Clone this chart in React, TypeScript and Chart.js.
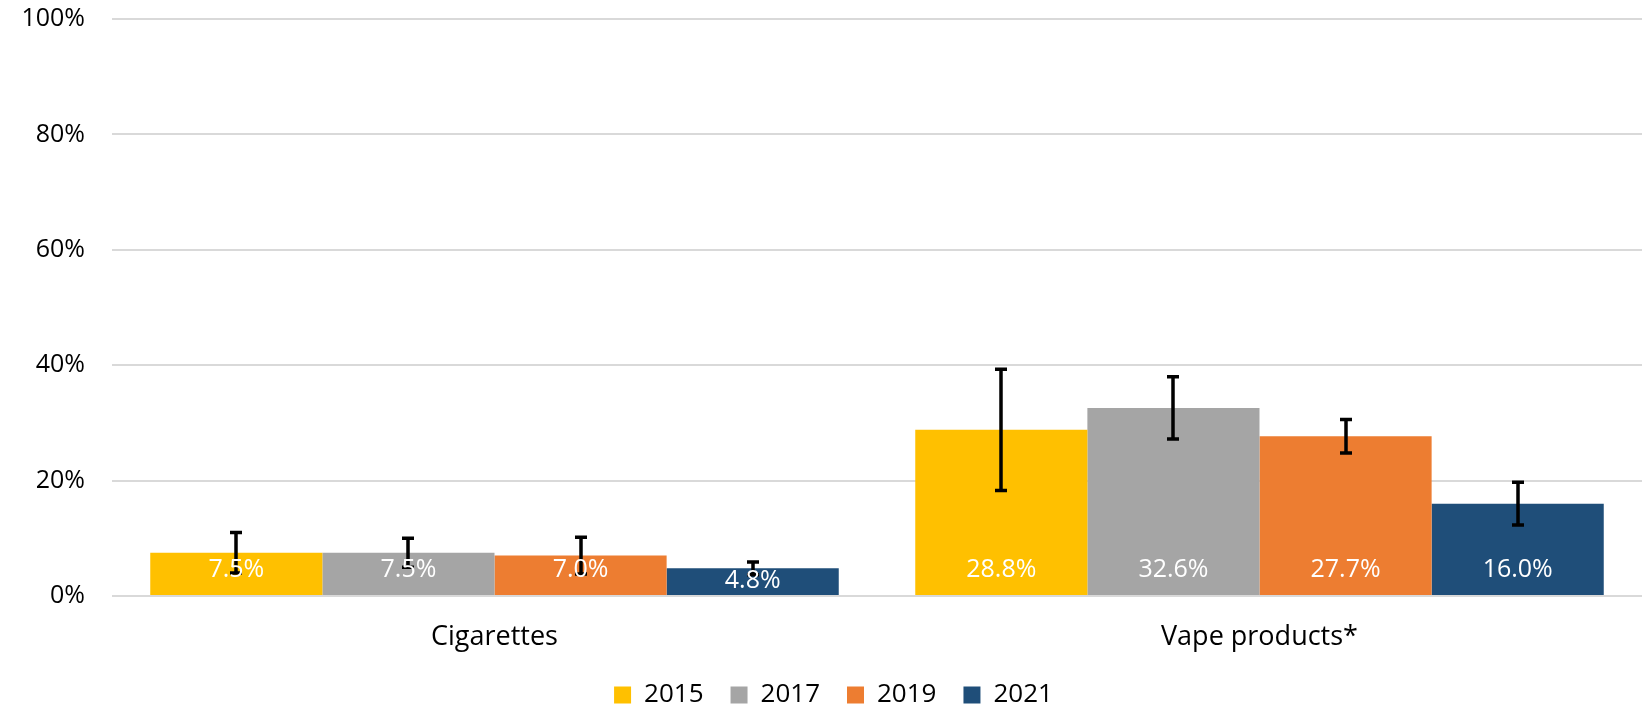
import React, { useEffect, useRef } from "react";
import { Chart, registerables } from "chart.js";

Chart.register(...registerables);

const categories = ["Cigarettes", "Vape products*"];
const seriesLabels = ["2015", "2017", "2019", "2021"];
const values2015 = [7.5, 28.8];
const values2017 = [7.5, 32.6];
const values2019 = [7.0, 27.7];
const values2021 = [4.8, 16.0];
const errors2015 = [3.5, 10.5];
const errors2017 = [2.5, 5.4];
const errors2019 = [3.2, 2.9];
const errors2021 = [1.1, 3.7];
const seriesColors = ["#FFC000", "#A5A5A5", "#ED7D31", "#1F4E79"];
const yTickValues = [0, 20, 40, 60, 80, 100];

const FONT = "'Open Sans', 'Noto Sans', sans-serif";

const seriesValues = [values2015, values2017, values2019, values2021];
const seriesErrors = [errors2015, errors2017, errors2019, errors2021];

const barExtras = {
  id: "barExtras",
  afterLayout(chart: any) {
    if (chart.legend) {
      chart.legend.left += 25;
    }
  },
  afterDatasetsDraw(chart: any) {
    const ctx = chart.ctx;
    const yScale = chart.scales.y;
    const base = yScale.getPixelForValue(0);
    // error bars
    chart.data.datasets.forEach((ds: any, di: number) => {
      const meta = chart.getDatasetMeta(di);
      meta.data.forEach((bar: any, i: number) => {
        const v = ds.data[i];
        const e = ds.errors[i];
        const x = Math.round(bar.x);
        const yTop = yScale.getPixelForValue(v + e);
        const yBot = yScale.getPixelForValue(v - e);
        ctx.save();
        ctx.strokeStyle = "#000";
        ctx.lineWidth = 3.5;
        ctx.lineCap = "butt";
        ctx.beginPath();
        ctx.moveTo(x, yTop);
        ctx.lineTo(x, yBot);
        ctx.moveTo(x - 6, yTop);
        ctx.lineTo(x + 6, yTop);
        ctx.moveTo(x - 6, yBot);
        ctx.lineTo(x + 6, yBot);
        ctx.stroke();
        ctx.restore();
      });
    });
    // data labels
    const fontSize = 25;
    const digitH = fontSize * 0.714;
    chart.data.datasets.forEach((ds: any, di: number) => {
      const meta = chart.getDatasetMeta(di);
      meta.data.forEach((bar: any, i: number) => {
        const v = ds.data[i];
        let center = base - 28;
        const minCenter = bar.y + 2 + digitH / 2;
        if (center < minCenter) center = minCenter;
        ctx.save();
        ctx.fillStyle = "#FFFFFF";
        ctx.font = `${fontSize}px ${FONT}`;
        ctx.textAlign = "center";
        ctx.textBaseline = "alphabetic";
        ctx.fillText(v.toFixed(1) + "%", bar.x, center + digitH / 2);
        ctx.restore();
      });
    });
  },
};

export default function App() {
  const canvasRef = useRef<HTMLCanvasElement | null>(null);

  useEffect(() => {
    document.body.style.margin = "0";
    const canvas = canvasRef.current;
    if (!canvas) return;
    const chart = new Chart(canvas, {
      type: "bar",
      data: {
        labels: categories,
        datasets: seriesLabels.map((label, i) => ({
          label,
          data: seriesValues[i],
          errors: seriesErrors[i],
          backgroundColor: seriesColors[i],
          borderWidth: 0,
          categoryPercentage: 0.9,
          barPercentage: 1.0,
        })) as any,
      },
      options: {
        responsive: false,
        animation: false,
        devicePixelRatio: 1,
        layout: {
          padding: { left: 0, right: 6, top: 19, bottom: -12 },
        },
        plugins: {
          legend: {
            position: "bottom",
            labels: {
              boxWidth: 17,
              boxHeight: 17,
              padding: 27,
              color: "#000",
              font: { family: FONT, size: 26 },
            },
          },
          tooltip: { enabled: false },
        },
        scales: {
          x: {
            grid: { display: false, drawTicks: false },
            border: { display: false },
            ticks: {
              color: "#000",
              padding: 25,
              font: { family: FONT, size: 27 },
            },
            afterFit: (scale: any) => {
              scale.height = 59;
            },
          },
          y: {
            min: 0,
            max: 100,
            afterBuildTicks: (scale: any) => {
              scale.ticks = yTickValues.map((v) => ({ value: v }));
            },
            grid: { color: "#D9D9D9", lineWidth: 2, drawTicks: false },
            border: { display: false },
            ticks: {
              color: "#000",
              padding: 27,
              font: { family: FONT, size: 25 },
              callback: (v: any) => `${v}%`,
            },
            afterFit: (scale: any) => {
              scale.width = 112;
              scale.paddingTop = 0;
              scale.paddingBottom = 0;
            },
          },
        },
      },
      plugins: [barExtras],
    });
    return () => chart.destroy();
  }, []);

  return (
    <div style={{ width: 1648, height: 706, position: "relative" }}>
      <canvas ref={canvasRef} width={1648} height={706} style={{ display: "block" }} />
    </div>
  );
}
